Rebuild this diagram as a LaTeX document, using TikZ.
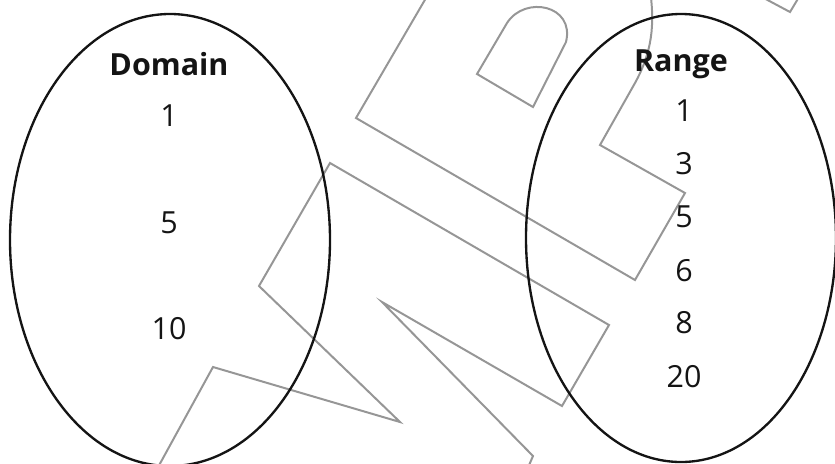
\documentclass[tikz,border=0pt]{standalone}
\usepackage{fontspec}
\setmainfont{Open Sans}
\definecolor{markgray}{RGB}{150,150,150}
\definecolor{ovalblack}{RGB}{20,20,20}

\begin{document}
\begin{tikzpicture}[
    x=0.03cm, y=-0.03cm,
    setlabel/.style={font=\fontsize{26}{30}\selectfont\bfseries, text=ovalblack, anchor=base, inner sep=0pt},
    member/.style={font=\fontsize{26}{30}\selectfont, text=ovalblack, anchor=base, inner sep=0pt},
    oval/.style={draw=ovalblack, line width=2pt},
    stamp/.style={draw=markgray, line width=1.7pt, line join=miter}
]

% Canvas (pixel units, origin top left)
\useasboundingbox (0,0) rectangle (835,463);
\clip (0,0) rectangle (835,463);

% Watermark outlines
\draw[stamp] (440,-26) -- (356,118) -- (635,280) -- (685,193) -- (600,145) -- (635,83)
    .. controls (652,52) and (655,25) .. (650,-10);
\draw[stamp] (477,74) -- (507,23) .. controls (525,-5) and (575,5) .. (566,42) -- (533,107) -- cycle;
\draw[stamp] (151,480) -- (213,367) -- (400,422) -- (259,286) -- (330,163) -- (609,325)
    -- (562,406) -- (382,302) -- (533,456) -- (527,470);
\draw[stamp] (760,-4) -- (790,12) -- (802,-8);

% Domain and Range ovals
\draw[oval] (170,240) ellipse [x radius=160, y radius=226];
\draw[oval] (681,238) ellipse [x radius=155, y radius=224];

% Domain
\node[setlabel] (dom) at (169,75) {Domain};
\node[member] (d1) at (169,126) {1};
\node[member] (d5) at (169,233) {5};
\node[member] (d10) at (169,339) {10};

% Range
\node[setlabel] (rng) at (681,71) {Range};
\node[member] (r1) at (684,121) {1};
\node[member] (r3) at (684,174) {3};
\node[member] (r5) at (684,227) {5};
\node[member] (r6) at (684,281) {6};
\node[member] (r8) at (684,333) {8};
\node[member] (r20) at (684,387) {20};

\end{tikzpicture}
\end{document}
